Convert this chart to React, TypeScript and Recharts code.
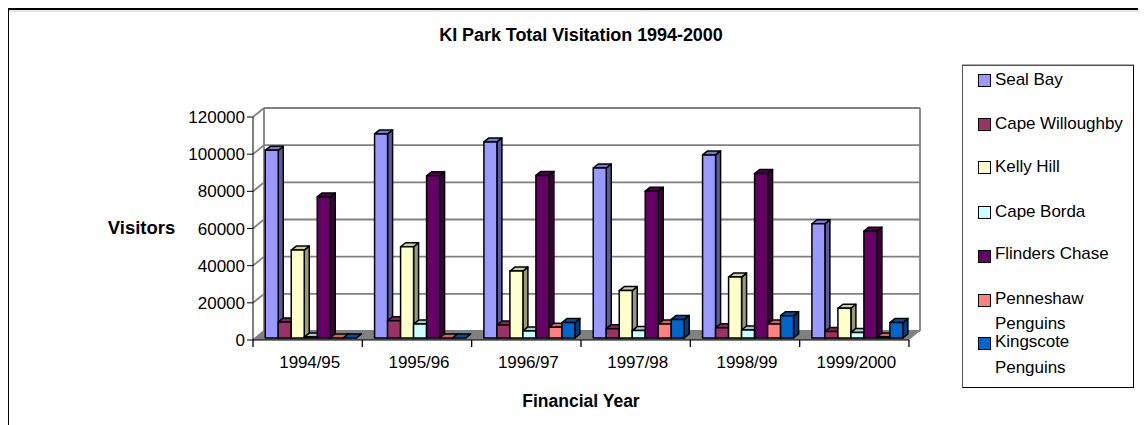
import React from "react";
import { BarChart, Bar, XAxis, YAxis, CartesianGrid, Legend } from "recharts";

const categories = ["1994/95", "1995/96", "1996/97", "1997/98", "1998/99", "1999/2000"];
const sealBay = [101000, 109800, 105500, 91500, 98500, 61500];
const capeWilloughby = [8600, 9300, 7000, 5000, 5500, 3500];
const kellyHill = [47300, 49100, 36000, 25500, 32800, 16000];
const capeBorda = [500, 7500, 3800, 4000, 4300, 3000];
const flindersChase = [75900, 87300, 87500, 79000, 88500, 57500];
const penneshaw = [0, 0, 5800, 7500, 7500, 500];
const kingscote = [0, 0, 8300, 10000, 12000, 8300];
const yTicks = [0, 20000, 40000, 60000, 80000, 100000, 120000];

const seriesList = [
  { name: "Seal Bay", values: sealBay, color: "#9999FF", side: "#5B5B99", top: "#7A7ACC" },
  { name: "Cape Willoughby", values: capeWilloughby, color: "#993366", side: "#5B1F3D", top: "#7A2952" },
  { name: "Kelly Hill", values: kellyHill, color: "#FFFFCC", side: "#99997A", top: "#CCCCA3" },
  { name: "Cape Borda", values: capeBorda, color: "#CCFFFF", side: "#7A9999", top: "#A3CCCC" },
  { name: "Flinders Chase", values: flindersChase, color: "#660066", side: "#3D003D", top: "#520052" },
  { name: "Penneshaw Penguins", values: penneshaw, color: "#FF8080", side: "#994D4D", top: "#CC6666" },
  { name: "Kingscote Penguins", values: kingscote, color: "#0066CC", side: "#003D7A", top: "#0052A3" },
];

const data = categories.map((c, i) => {
  const row: Record<string, string | number> = { category: c };
  seriesList.forEach((s) => { row[s.name] = s.values[i]; });
  return row;
});

const FONT = "'Liberation Sans', Arial, sans-serif";
const WALL_DX = 11;
const WALL_DY = 9;

function Bar3D(props: any) {
  const { x, y, width, height, fill, side, top } = props;
  const sx = 3.5, sy = -2, dx = 5, dy = 4;
  const l = x + sx, r = x + width + sx, t = y + sy, b = y + height + sy;
  return (
    <g stroke="#000" strokeWidth={1.5} strokeLinejoin="round">
      <polygon points={`${r},${t} ${r + dx},${t - dy} ${r + dx},${b - dy} ${r},${b}`} fill={side} />
      <polygon points={`${l},${t} ${l + dx},${t - dy} ${r + dx},${t - dy} ${r},${t}`} fill={top} />
      <rect x={l} y={t} width={width} height={Math.max(b - t, 0)} fill={fill} />
    </g>
  );
}

function GridLine(props: any) {
  const { x1, x2, y1 } = props;
  const isFloor = Math.abs(y1 - 332) < 2;
  return (
    <g>
      {isFloor && (
        <polygon
          points={`${x1},${y1} ${x1 + WALL_DX},${y1 - WALL_DY} ${x2 + WALL_DX},${y1 - WALL_DY} ${x2},${y1}`}
          fill="#808080"
        />
      )}
      <line x1={x1} y1={y1} x2={x1 + WALL_DX} y2={y1 - WALL_DY} stroke="#808080" strokeWidth={1.8} />
      <line x1={x1 + WALL_DX} y1={y1 - WALL_DY} x2={x2 + WALL_DX} y2={y1 - WALL_DY} stroke="#808080" strokeWidth={1.8} />
      {y1 < 112 && (
        <>
          <line x1={x1 + WALL_DX} y1={y1 - WALL_DY} x2={x1 + WALL_DX} y2={332 - WALL_DY} stroke="#808080" strokeWidth={1.8} />
          <line x1={x2 + WALL_DX} y1={y1 - WALL_DY} x2={x2 + WALL_DX} y2={332 - WALL_DY} stroke="#808080" strokeWidth={1.8} />
        </>
      )}
    </g>
  );
}

function XTick(props: any) {
  const { x, y, payload, width, visibleTicksCount } = props;
  const band = width / visibleTicksCount;
  const top = y - 8;
  return (
    <g>
      <line x1={x - band / 2} y1={top} x2={x - band / 2} y2={top + 7} stroke="#000" strokeWidth={1.3} />
      {payload.index === visibleTicksCount - 1 && (
        <line x1={x + band / 2} y1={top} x2={x + band / 2} y2={top + 7} stroke="#000" strokeWidth={1.3} />
      )}
      <text x={x + 2} y={y + 20} textAnchor="middle" fontFamily={FONT} fontSize={17} letterSpacing={-0.1} fill="#000">{payload.value}</text>
    </g>
  );
}

function LegendBox(props: any) {
  const markerTop = [8, 51.5, 94.5, 139.5, 183.5, 227.5, 270.5];
  const textTop = [5, 49, 92, 137, 179, 224, 267];
  const secondTop = [0, 0, 0, 0, 0, 249, 293];
  return (
    <div style={{ position: "relative", width: 170, height: 321, border: "1px solid #000", borderLeftColor: "#555", borderTopColor: "#555", boxShadow: "0 -1px 0 #aaa", background: "#fff", fontFamily: FONT, fontSize: 17, letterSpacing: -0.05, color: "#000" }}>
      {(props.payload || []).map((p: any, i: number) => {
        const words = String(p.value).split(" ");
        const wrap = i >= 5;
        return (
          <div key={p.value}>
            <div style={{ position: "absolute", left: 15, top: markerTop[i], width: 11, height: 11, background: p.color, border: "1px solid #000" }} />
            <div style={{ position: "absolute", left: 32, top: textTop[i], lineHeight: "18px", whiteSpace: "nowrap" }}>
              {wrap ? words[0] : p.value}
            </div>
            {wrap && (
              <div style={{ position: "absolute", left: 32, top: secondTop[i], lineHeight: "18px", whiteSpace: "nowrap" }}>
                {words[1]}
              </div>
            )}
          </div>
        );
      })}
    </div>
  );
}

export default function App() {
  return (
    <div style={{ position: "relative", width: 1138, height: 417, overflow: "hidden", background: "#fff" }}>
      <BarChart
        width={1138}
        height={417}
        data={data}
        barGap={0}
        barCategoryGap="8%"
        margin={{ top: 109, right: 237, bottom: 55, left: 185 }}
      >
        <line x1={0} y1={3} x2={1138} y2={3} stroke="#ccc" strokeWidth={1} />
        <line x1={0} y1={1} x2={1138} y2={1} stroke="#000" strokeWidth={2} />
        <line x1={0} y1={0} x2={0} y2={417} stroke="#000" strokeWidth={2} />
        <text x={573} y={33} textAnchor="middle" fontFamily={FONT} fontSize={18} fontWeight="bold" letterSpacing={-0.06} fill="#000">
          KI Park Total Visitation 1994-2000
        </text>
        <CartesianGrid vertical={false} horizontal={(p: any) => <GridLine key={p.key} {...p} />} horizontalValues={yTicks} />
        <XAxis
          dataKey="category"
          height={30}
          tick={<XTick />}
          tickLine={false}
          interval={0}
          stroke="#000"
          label={{ value: "Financial Year", position: "insideBottom", offset: -37, fontFamily: FONT, fontSize: 17.5, fontWeight: "bold", fill: "#000" }}
        />
        <YAxis
          width={60}
          domain={[0, 120000]}
          ticks={yTicks}
          interval={0}
          stroke="#000"
          tickSize={6}
          tick={{ fontFamily: FONT, fontSize: 17, fill: "#000" }}
        />
        <Legend
          layout="vertical"
          align="center"
          verticalAlign="middle"
          itemSorter={null}
          content={<LegendBox />}
          wrapperStyle={{ position: "absolute", left: 954, top: 57, width: 172, height: 323 }}
        />
        <text x={133.5} y={226} textAnchor="middle" fontFamily={FONT} fontSize={18.5} fontWeight="bold" fill="#000">Visitors</text>
        {seriesList.map((s) => (
          <Bar
            key={s.name}
            dataKey={s.name}
            fill={s.color}
            isAnimationActive={false}
            shape={(p: any) => <Bar3D {...p} fill={s.color} side={s.side} top={s.top} />}
          />
        ))}
      </BarChart>
    </div>
  );
}
